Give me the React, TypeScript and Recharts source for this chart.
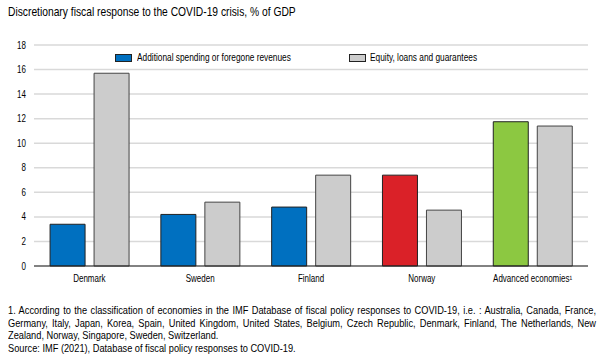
import React from "react";
import { BarChart, Bar, XAxis, YAxis, CartesianGrid, Legend, Cell } from "recharts";

const categories = ["Denmark", "Sweden", "Finland", "Norway", "Advanced economies¹"];
const spending = [3.4, 4.2, 4.8, 7.4, 11.75];
const equity = [15.7, 5.2, 7.4, 4.55, 11.4];
const yTicks = [0, 2, 4, 6, 8, 10, 12, 14, 16, 18];
const spendingColors = ["#0070C0", "#0070C0", "#0070C0", "#DA2128", "#8CC841"];

const data = categories.map((c, i) => ({ name: c, spending: spending[i], equity: equity[i] }));

const FONT = "'Liberation Sans', Arial, sans-serif";
const SX = 0.8;
const FSX = 0.84;

const Narrow = ({ children, style, sx = SX }: { children: React.ReactNode; style?: React.CSSProperties; sx?: number }) => (
  <div style={{ position: "absolute", whiteSpace: "nowrap", transform: `scaleX(${sx})`, transformOrigin: "0 0", ...style }}>
    {children}
  </div>
);

const XTick = (props: any) => {
  const { x, y, payload } = props;
  return (
    <g transform={`translate(${x},${y})`}>
      <text transform={`scale(${SX},1)`} textAnchor="middle" dy={8} fontSize={10} fill="#000" fontFamily={FONT}>
        {payload.value}
      </text>
    </g>
  );
};

const YTick = (props: any) => {
  const { x, y, payload } = props;
  return (
    <g transform={`translate(${x},${y})`}>
      <text transform={`scale(${SX},1)`} textAnchor="end" dy={3.5} fontSize={10} fill="#000" fontFamily={FONT}>
        {payload.value}
      </text>
    </g>
  );
};

const LegendContent = () => (
  <div style={{ position: "relative", height: 14, fontFamily: FONT, fontSize: 10.4, lineHeight: "13px", color: "#000" }}>
    <div style={{ position: "absolute", left: 115, top: 3, width: 15, height: 6, background: "#0070C0", border: "1px solid #222" }} />
    <Narrow style={{ left: 137, top: 0 }}>Additional spending or foregone revenues</Narrow>
    <div style={{ position: "absolute", left: 349, top: 3, width: 15, height: 6, background: "#CCCCCC", border: "1px solid #222" }} />
    <Narrow style={{ left: 370, top: 0 }}>Equity, loans and guarantees</Narrow>
  </div>
);

const footLines = [
  "1. According to the classification of economies in the IMF Database of fiscal policy responses to COVID-19, i.e. : Australia, Canada, France,",
  "Germany, Italy, Japan, Korea, Spain, United Kingdom, United States, Belgium, Czech Republic, Denmark, Finland, The Netherlands, New",
];

export default function App() {
  return (
    <div style={{ position: "absolute", left: 0, top: 0, width: 605, height: 361, background: "#fff", fontFamily: FONT, overflow: "hidden" }}>
      <Narrow sx={0.79} style={{ left: 8, top: 4, fontSize: 13, color: "#000" }}>
        Discretionary fiscal response to the COVID-19 crisis, % of GDP
      </Narrow>
      <div style={{ position: "absolute", left: 0, top: 0 }}>
        <BarChart
          width={605}
          height={290}
          data={data}
          margin={{ top: 31, right: 17, left: 8, bottom: 4 }}
          barCategoryGap="14.5%"
          barGap={9}
        >
          <CartesianGrid vertical={false} stroke="#D9D9D9" strokeWidth={1.5} />
          <XAxis
            dataKey="name"
            height={20}
            tickLine={false}
            axisLine={{ stroke: "#222", strokeWidth: 1 }}
            tick={<XTick />}
            interval={0}
          />
          <YAxis
            width={26}
            domain={[0, 18]}
            ticks={yTicks}
            axisLine={false}
            tickLine={false}
            tick={<YTick />}
          />
          <Legend verticalAlign="top" align="left" content={<LegendContent />} wrapperStyle={{ top: 51, left: 0, width: 605, height: 14 }} />
          <Bar dataKey="spending" stroke="#222" strokeWidth={1} isAnimationActive={false}>
            {data.map((d, i) => (
              <Cell key={d.name} fill={spendingColors[i]} />
            ))}
          </Bar>
          <Bar dataKey="equity" fill="#CCCCCC" stroke="#444" strokeWidth={1} isAnimationActive={false} />
        </BarChart>
      </div>
      {footLines.map((l, i) => (
        <div
          key={i}
          style={{
            position: "absolute",
            left: 8,
            top: 304 + i * 12.7,
            width: 588 / FSX,
            fontSize: 11,
            lineHeight: "13px",
            color: "#000",
            whiteSpace: "nowrap",
            textAlign: "justify",
            textAlignLast: "justify",
            transform: `scaleX(${FSX})`,
            transformOrigin: "0 0",
          }}
        >
          {l}
        </div>
      ))}
      <Narrow sx={FSX} style={{ left: 8, top: 329.4, fontSize: 11, lineHeight: "13px", color: "#000" }}>
        Zealand, Norway, Singapore, Sweden, Switzerland.
      </Narrow>
      <Narrow sx={FSX} style={{ left: 8, top: 342, fontSize: 11, lineHeight: "13px", color: "#000" }}>
        Source: IMF (2021), Database of fiscal policy responses to COVID-19.
      </Narrow>
    </div>
  );
}
